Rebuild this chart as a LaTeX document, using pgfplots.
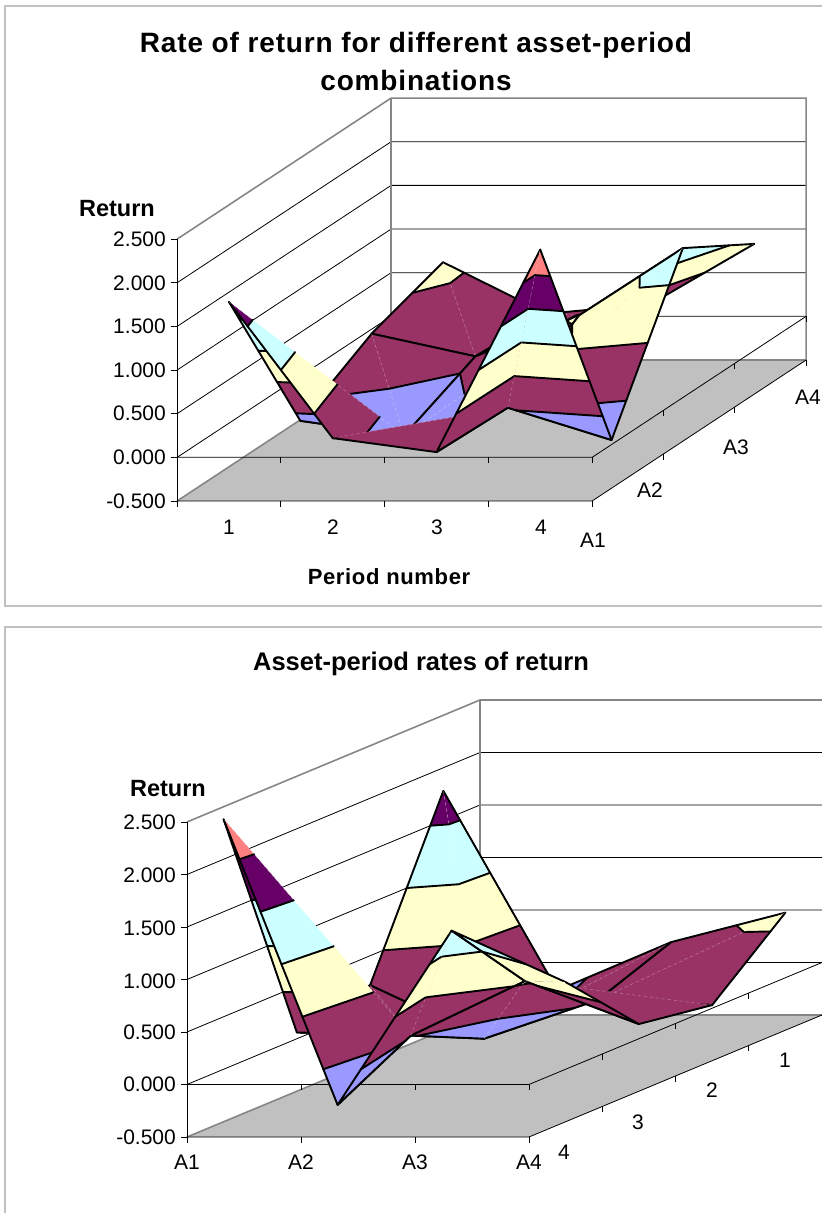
\documentclass[border=0pt]{standalone}
\usepackage{fontspec}
\setmainfont{Liberation Sans}
\newfontfamily\tfont[LetterSpace=3]{Liberation Sans}
\usepackage{pgfplots}
\pgfplotsset{compat=1.18}
\definecolor{sa}{HTML}{FF8080}
\definecolor{pu}{HTML}{660066}
\definecolor{cy}{HTML}{CCFFFF}
\definecolor{ye}{HTML}{FFFFCC}
\definecolor{pl}{HTML}{993366}
\definecolor{pe}{HTML}{9999FF}
\definecolor{fl}{HTML}{C0C0C0}
\definecolor{gr}{HTML}{868686}
\definecolor{fr}{HTML}{C0C0C0}
\newcommand\F[2]{\addplot3[fill=#1,draw=#1,line width=.25pt] coordinates {#2};}
\newcommand\Ln[1]{\addplot3[black,line width=1.9pt,line cap=round,line join=round] coordinates {#1};}
\newcommand\Dg[1]{\addplot3[white,opacity=.3,line width=.6pt,dashed] coordinates {#1};}
\newcommand\Thin[1]{\addplot3[black,line width=.8pt] coordinates {#1};}
\newcommand\Grey[1]{\addplot3[gr,line width=1.6pt] coordinates {#1};}
% cell A1-A2, P1-P2
\newcommand\cellAX{%
\F{pu}{(1,1,1.78)(1,1.147,1.5)(1.135,1.135,1.5)}
\F{cy}{(1,1.147,1.5)(1.135,1.135,1.5)(1.377,1.377,1)(1,1.411,1)}
\F{ye}{(1,1.411,1)(1.377,1.377,1)(1.618,1.618,.5)(1,1.674,.5)}
\F{pl}{(1,1.674,.5)(1.618,1.618,.5)(1.86,1.86,0)(1,1.937,0)}
\F{pe}{(1,1.937,0)(1.86,1.86,0)(2,2,-.29)(1,2,-.12)}
\Ln{(1,1.147,1.5)(1.135,1.135,1.5)}
\Ln{(1,1.411,1)(1.377,1.377,1)}
\Ln{(1,1.674,.5)(1.618,1.618,.5)}
\Ln{(1,1.937,0)(1.86,1.86,0)}
\Ln{(1,1,1.78)(1,2,-.12)(2,2,-.29)}
\F{pu}{(1,1,1.78)(1.179,1,1.5)(1.135,1.135,1.5)}
\F{cy}{(1.179,1,1.5)(1.135,1.135,1.5)(1.377,1.377,1)(1.5,1,1)}
\F{ye}{(1.5,1,1)(1.377,1.377,1)(1.618,1.618,.5)(1.821,1,.5)}
\F{pl}{(1.821,1,.5)(1.618,1.618,.5)(1.86,1.86,0)(2,1.431,0)(2,1,.22)}
\F{pe}{(1.86,1.86,0)(2,2,-.29)(2,1.431,0)}
\Ln{(1.179,1,1.5)(1.135,1.135,1.5)}
\Ln{(1.5,1,1)(1.377,1.377,1)}
\Ln{(1.821,1,.5)(1.618,1.618,.5)}
\Ln{(1.86,1.86,0)(2,1.431,0)}
\Ln{(1,1,1.78)(2,1,.22)(2,2,-.29)}
\Dg{(1,1,1.78)(2,2,-.29)}
}
% cell A1-A2, P2-P3
\newcommand\cellAY{%
\F{pl}{(2,1.431,0)(2,1,.22)(3,2,.03)(2.906,2,0)}
\F{pe}{(2,1.431,0)(2.906,2,0)(2,2,-.29)}
\Ln{(2,1.431,0)(2.906,2,0)}
\Ln{(2,1,.22)(2,2,-.29)(3,2,.03)}
\F{pl}{(2,1,.22)(3,1,.06)(3,2,.03)}
\Ln{(2,1,.22)(3,1,.06)(3,2,.03)}
\Dg{(2,1,.22)(3,2,.03)}
}
% cell A1-A2, P3-P4
\newcommand\cellAZ{%
\F{pl}{(3,1,.06)(3.19,1,.5)(3.2,1.8,.5)(3,2,.03)}
\F{ye}{(3.19,1,.5)(3.405,1,1)(3.413,1.587,1)(3.2,1.8,.5)}
\F{cy}{(3.405,1,1)(3.621,1,1.5)(3.626,1.374,1.5)(3.413,1.587,1)}
\F{pu}{(3.621,1,1.5)(3.836,1,2)(3.838,1.162,2)(3.626,1.374,1.5)}
\F{sa}{(3.836,1,2)(4,1,2.38)(3.838,1.162,2)}
\Ln{(3.19,1,.5)(3.2,1.8,.5)}
\Ln{(3.405,1,1)(3.413,1.587,1)}
\Ln{(3.621,1,1.5)(3.626,1.374,1.5)}
\Ln{(3.836,1,2)(3.838,1.162,2)}
\Ln{(3,2,.03)(3,1,.06)(4,1,2.38)}
\F{sa}{(4,1,2.38)(3.838,1.162,2)(4,1.14,2)}
\F{pu}{(3.838,1.162,2)(4,1.14,2)(4,1.324,1.5)(3.626,1.374,1.5)}
\F{cy}{(3.626,1.374,1.5)(4,1.324,1.5)(4,1.507,1)(3.413,1.587,1)}
\F{ye}{(3.413,1.587,1)(4,1.507,1)(4,1.691,.5)(3.2,1.8,.5)}
\F{pl}{(3.2,1.8,.5)(4,1.691,.5)(4,1.875,0)(3.081,2,0)(3,2,.03)}
\F{pe}{(3.081,2,0)(4,1.875,0)(4,2,-.34)}
\Ln{(3.838,1.162,2)(4,1.14,2)}
\Ln{(3.626,1.374,1.5)(4,1.324,1.5)}
\Ln{(3.413,1.587,1)(4,1.507,1)}
\Ln{(3.2,1.8,.5)(4,1.691,.5)}
\Ln{(3.081,2,0)(4,1.875,0)}
\Ln{(4,1,2.38)(4,2,-.34)(3,2,.03)}
\Dg{(3,2,.03)(4,1,2.38)}
}
% cell A2-A3, P1-P2
\newcommand\cellBX{%
\F{pl}{(1,2.261,0)(1,3,.34)(1.54,2.46,0)}
\F{pe}{(1,2,-.12)(1,2.261,0)(1.54,2.46,0)(2,2,-.29)}
\Ln{(1,2.261,0)(1.54,2.46,0)}
\Ln{(2,2,-.29)(1,2,-.12)(1,3,.34)}
\F{pl}{(1,3,.34)(2,3,.08)(2,2.784,0)(1.54,2.46,0)}
\F{pe}{(1.54,2.46,0)(2,2.784,0)(2,2,-.29)}
\Ln{(1.54,2.46,0)(2,2.784,0)}
\Ln{(1,3,.34)(2,3,.08)(2,2,-.29)}
\Dg{(1,3,.34)(2,2,-.29)}
}
% cell A2-A3, P2-P3
\newcommand\cellBY{%
\F{pe}{(2,2,-.29)(2,2.784,0)(2.345,2.345,0)}
\F{pl}{(2,2.784,0)(2,3,.08)(2.894,3,.5)(2.94,2.94,.5)(2.345,2.345,0)}
\F{ye}{(2.894,3,.5)(3,3,.55)(2.94,2.94,.5)}
\Ln{(2,2.784,0)(2.345,2.345,0)}
\Ln{(2.894,3,.5)(2.94,2.94,.5)}
\Ln{(2,2,-.29)(2,3,.08)(3,3,.55)}
\F{pe}{(2,2,-.29)(2.906,2,0)(2.345,2.345,0)}
\F{pl}{(2.345,2.345,0)(2.906,2,0)(3,2,.03)(3,2.904,.5)(2.94,2.94,.5)}
\F{ye}{(2.94,2.94,.5)(3,2.904,.5)(3,3,.55)}
\Ln{(2.345,2.345,0)(2.906,2,0)}
\Ln{(2.94,2.94,.5)(3,2.904,.5)}
\Ln{(2,2,-.29)(3,2,.03)(3,3,.55)}
\Dg{(2,2,-.29)(3,3,.55)}
}
% cell A2-A3, P3-P4
\newcommand\cellBZ{%
\F{pl}{(3,2,.03)(3,2.904,.5)(3.364,2.364,.5)}
\F{ye}{(3,2.904,.5)(3,3,.55)(3.584,3,1)(3.752,2.752,1)(3.364,2.364,.5)}
\F{cy}{(3.584,3,1)(4,3,1.32)(3.752,2.752,1)}
\Ln{(3,2.904,.5)(3.364,2.364,.5)}
\Ln{(3.584,3,1)(3.752,2.752,1)}
\Ln{(3,2,.03)(3,3,.55)(4,3,1.32)}
\F{pl}{(3,2,.03)(3.081,2,0)(4,2.205,0)(4,2.506,.5)(3.364,2.364,.5)}
\F{pe}{(3.081,2,0)(4,2,-.34)(4,2.205,0)}
\F{ye}{(3.364,2.364,.5)(4,2.506,.5)(4,2.807,1)(3.752,2.752,1)}
\F{cy}{(3.752,2.752,1)(4,2.807,1)(4,3,1.32)}
\Ln{(3.081,2,0)(4,2.205,0)}
\Ln{(3.364,2.364,.5)(4,2.506,.5)}
\Ln{(3.752,2.752,1)(4,2.807,1)}
\Ln{(3,2,.03)(4,2,-.34)(4,3,1.32)}
\Dg{(3,2,.03)(4,3,1.32)}
}
% cell A3-A4, P1-P2
\newcommand\cellCX{%
\F{pl}{(1,3,.34)(1,3.571,.5)(1.222,3.778,.5)(2,3,.08)}
\F{ye}{(1,3.571,.5)(1,4,.62)(1.222,3.778,.5)}
\Ln{(1,3.571,.5)(1.222,3.778,.5)}
\Ln{(2,3,.08)(1,3,.34)(1,4,.62)}
\F{ye}{(1,4,.62)(1.203,4,.5)(1.222,3.778,.5)}
\F{pl}{(1.203,4,.5)(2,4,.03)(2,3,.08)(1.222,3.778,.5)}
\Ln{(1.222,3.778,.5)(1.203,4,.5)}
\Ln{(1,4,.62)(2,4,.03)(2,3,.08)}
\Dg{(1,4,.62)(2,3,.08)}
}
% cell A3-A4, P2-P3
\newcommand\cellCY{%
\F{pl}{(2,3,.08)(2.894,3,.5)(2.904,3.096,.5)(2,4,.03)}
\F{ye}{(2.894,3,.5)(3,3,.55)(2.904,3.096,.5)}
\Ln{(2.894,3,.5)(2.904,3.096,.5)}
\Ln{(2,4,.03)(2,3,.08)(3,3,.55)}
\F{ye}{(3,3,.55)(3,3.122,.5)(2.904,3.096,.5)}
\F{pl}{(2.904,3.096,.5)(3,3.122,.5)(3,4,.14)(2,4,.03)}
\Ln{(2.904,3.096,.5)(3,3.122,.5)}
\Ln{(3,3,.55)(3,4,.14)(2,4,.03)}
\Dg{(3,3,.55)(2,4,.03)}
}
% cell A3-A4, P3-P4
\newcommand\cellCZ{%
\F{ye}{(3,3,.55)(3.584,3,1)(4,3.653,1)(4,4,.83)}
\F{cy}{(3.584,3,1)(4,3,1.32)(4,3.653,1)}
\Ln{(3.584,3,1)(4,3.653,1)}
\Ln{(3,3,.55)(4,3,1.32)(4,4,.83)}
\F{pl}{(3,3.122,.5)(3,4,.14)(3.522,4,.5)}
\F{ye}{(3,3,.55)(3,3.122,.5)(3.522,4,.5)(4,4,.83)}
\Ln{(3,3.122,.5)(3.522,4,.5)}
\Ln{(3,3,.55)(3,4,.14)(4,4,.83)}
\Dg{(3,3,.55)(4,4,.83)}
}
\begin{document}
\begin{tikzpicture}
\path[use as bounding box] (0pt,0pt) rectangle (822pt,1213pt);
\begin{scope}[x=1pt,y=-1pt,yshift=1213pt]
\draw[fr,line width=2pt] (5,6) -- (830,6) -- (830,606) -- (5,606) -- cycle;
\draw[fr,line width=2pt] (5,1225) -- (5,627) -- (830,627) -- (830,1225);
\end{scope}
% ---------- first chart
\begin{axis}[at={(53.92pt,708.65pt)},anchor=origin,hide axis,clip=false,disabledatascaling,
 x={(103.75pt,0pt)},y={(71.33pt,47pt)},z={(0pt,87.3pt)},
 xmin=0,xmax=5,ymin=0,ymax=5,zmin=-.5,zmax=2.5]
\addplot3[fill=fl,draw=none] coordinates {(.5,1,-.5)(4.5,1,-.5)(4.5,4,-.5)(.5,4,-.5)};
\Thin{(.5,1,0)(.5,4,0)(4.5,4,0)}
\Thin{(.5,1,.5)(.5,4,.5)(4.5,4,.5)}
\Thin{(.5,1,1)(.5,4,1)(4.5,4,1)}
\Thin{(.5,1,1.5)(.5,4,1.5)(4.5,4,1.5)}
\Thin{(.5,1,2)(.5,4,2)(4.5,4,2)}
\Grey{(.5,1,2.5)(.5,4,2.5)(4.5,4,2.5)(4.5,4,-.5)(.5,4,-.5)(.5,1,-.5)}
\Grey{(.5,4,-.5)(.5,4,2.5)}
\Thin{(.442,1,2.5)(.5,1,2.5)(.5,1,-.5)(.442,1,-.5)}
\Thin{(.442,1,2)(.5,1,2)}
\Thin{(.442,1,1.5)(.5,1,1.5)}
\Thin{(.442,1,1)(.5,1,1)}
\Thin{(.442,1,.5)(.5,1,.5)}
\Thin{(.442,1,0)(.5,1,0)}
\Thin{(.5,1,-.5)(4.5,1,-.5)(4.5,4,-.5)}
\Thin{(.5,1,0)(4.5,1,0)(4.5,4,0)}
\Thin{(.5,1,-.5)(.5,1,-.569)}
\Thin{(1.5,1,-.5)(1.5,1,-.569)}
\Thin{(2.5,1,-.5)(2.5,1,-.569)}
\Thin{(3.5,1,-.5)(3.5,1,-.569)}
\Thin{(4.5,1,-.5)(4.5,1,-.569)}
\Thin{(1.5,1,0)(1.5,1,-.069)}
\Thin{(2.5,1,0)(2.5,1,-.069)}
\Thin{(3.5,1,0)(3.5,1,-.069)}
\Thin{(4.5,1,0)(4.5,1,-.069)}
\Thin{(4.5,2,-.5)(4.5,2,-.569)}
\Thin{(4.5,3,-.5)(4.5,3,-.569)}
\Thin{(4.5,4,-.5)(4.5,4,-.569)}
\Thin{(4.5,2,0)(4.5,2,-.069)}
\Thin{(4.5,3,0)(4.5,3,-.069)}
\Thin{(4.5,4,0)(4.5,4,-.069)}
\cellCX \cellCY \cellCZ
\cellBX \cellBY \cellBZ
\cellAX \cellAY \cellAZ
\end{axis}
% ---------- second chart
\begin{axis}[at={(402.6pt,265.75pt)},anchor=origin,hide axis,clip=false,disabledatascaling,
 x={(-73.25pt,-30.5pt)},y={(114pt,0pt)},z={(0pt,105pt)},
 xmin=0,xmax=5,ymin=0,ymax=5,zmin=-.5,zmax=2.5]
\addplot3[fill=fl,draw=none] coordinates {(4.5,1,-.5)(4.5,4,-.5)(.5,4,-.5)(.5,1,-.5)};
\Thin{(4.5,1,0)(.5,1,0)(.5,4,0)}
\Thin{(4.5,1,.5)(.5,1,.5)(.5,4,.5)}
\Thin{(4.5,1,1)(.5,1,1)(.5,4,1)}
\Thin{(4.5,1,1.5)(.5,1,1.5)(.5,4,1.5)}
\Thin{(4.5,1,2)(.5,1,2)(.5,4,2)}
\Grey{(4.5,1,2.5)(.5,1,2.5)(.5,4,2.5)}
\Grey{(4.5,1,-.5)(.5,1,-.5)(.5,4,-.5)}
\Grey{(.5,1,-.5)(.5,1,2.5)}
\Thin{(4.5,.947,2.5)(4.5,1,2.5)(4.5,1,-.5)(4.5,.947,-.5)}
\Thin{(4.5,.947,2)(4.5,1,2)}
\Thin{(4.5,.947,1.5)(4.5,1,1.5)}
\Thin{(4.5,.947,1)(4.5,1,1)}
\Thin{(4.5,.947,.5)(4.5,1,.5)}
\Thin{(4.5,.947,0)(4.5,1,0)}
\Thin{(4.5,1,-.5)(4.5,4,-.5)(.5,4,-.5)}
\Thin{(4.5,1,0)(4.5,4,0)(.5,4,0)}
\Thin{(4.5,1,-.5)(4.5,1,-.557)}
\Thin{(4.5,2,-.5)(4.5,2,-.557)}
\Thin{(4.5,3,-.5)(4.5,3,-.557)}
\Thin{(4.5,4,-.5)(4.5,4,-.557)}
\Thin{(4.5,2,0)(4.5,2,-.057)}
\Thin{(4.5,3,0)(4.5,3,-.057)}
\Thin{(4.5,4,0)(4.5,4,-.057)}
\Thin{(3.5,4,-.5)(3.5,4,-.557)}
\Thin{(2.5,4,-.5)(2.5,4,-.557)}
\Thin{(1.5,4,-.5)(1.5,4,-.557)}
\Thin{(.5,4,-.5)(.5,4,-.557)}
\Thin{(3.5,4,0)(3.5,4,-.057)}
\Thin{(2.5,4,0)(2.5,4,-.057)}
\Thin{(1.5,4,0)(1.5,4,-.057)}
\Thin{(.5,4,0)(.5,4,-.057)}
\cellAX \cellBX \cellCX
\cellAY \cellBY \cellCY
\cellAZ \cellBZ \cellCZ
\end{axis}
\begin{scope}[x=1pt,y=-1pt,yshift=1213pt]
\newcommand\lab[3]{\node[inner sep=0pt,font=\fontsize{21}{23}\selectfont] at (#1,#2) {#3};}
\newcommand\rlab[3]{\node[inner sep=0pt,anchor=east,font=\fontsize{21}{23}\selectfont] at (#1,#2) {#3};}
% first chart text
\node[inner sep=0pt,align=center,font=\fontsize{28}{38}\bfseries\tfont] at (416,62) {Rate of return for different asset-period\\combinations};
\node[inner sep=0pt,font=\fontsize{23.5}{25}\selectfont\bfseries] at (117,209) {Return};
\rlab{166}{239}{2.500}\rlab{166}{283}{2.000}\rlab{166}{326}{1.500}\rlab{166}{370}{1.000}
\rlab{166}{413}{0.500}\rlab{166}{457}{0.000}\rlab{166}{501}{-0.500}
\lab{229}{527}{1}\lab{333}{527}{2}\lab{437}{527}{3}\lab{541}{527}{4}
\lab{593}{540}{A1}\lab{650}{490}{A2}\lab{736}{447}{A3}\lab{808}{397}{A4}
\node[inner sep=0pt,font=\fontsize{22}{24}\bfseries\tfont] at (389,577) {Period number};
% second chart text
\node[inner sep=0pt,font=\fontsize{25.5}{28}\selectfont\bfseries] at (421,664) {Asset-period rates of return};
\node[inner sep=0pt,font=\fontsize{23.5}{25}\selectfont\bfseries] at (168,789) {Return};
\rlab{176}{822}{2.500}\rlab{176}{875}{2.000}\rlab{176}{928}{1.500}\rlab{176}{981}{1.000}
\rlab{176}{1032}{0.500}\rlab{176}{1084}{0.000}\rlab{176}{1137}{-0.500}
\lab{187}{1162}{A1}\lab{301}{1162}{A2}\lab{415}{1162}{A3}\lab{529}{1162}{A4}
\lab{564}{1152}{4}\lab{638}{1122}{3}\lab{712}{1090}{2}\lab{785}{1060}{1}
\end{scope}
\end{tikzpicture}
\end{document}
